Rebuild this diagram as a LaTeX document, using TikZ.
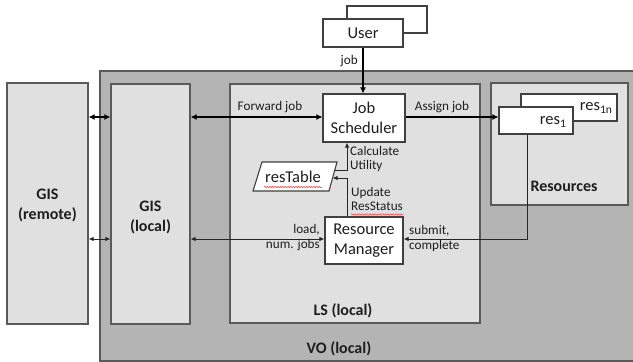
\documentclass[tikz,border=0pt]{standalone}
\usepackage{fontspec}
\setmainfont{Carlito}
\usetikzlibrary{arrows.meta,decorations.pathmorphing}
\definecolor{voGray}{HTML}{B4B4B4}
\definecolor{paneGray}{HTML}{E0E0E0}
\definecolor{edgeGray}{HTML}{5A5A5A}
\definecolor{inkGray}{HTML}{1E1E1E}
\tikzset{
  pane/.style={draw=edgeGray, fill=paneGray, line width=1.2pt, rectangle, inner sep=0pt},
  wbox/.style={draw=inkGray!85, fill=white, line width=1.1pt, rectangle, inner sep=0pt, align=center,
    font=\fontsize{16.5}{19.5}\selectfont, text=inkGray},
  biglabel/.style={font=\bfseries\fontsize{16}{20}\selectfont, align=center, inner sep=0pt, text=inkGray},
  smalllabel/.style={font=\fontsize{13.2}{14.5}\selectfont, inner sep=0pt, text=inkGray},
  heavy/.style={draw=black, line width=1.8pt, -{Latex[length=6pt,width=6pt]}},
  heavyboth/.style={draw=black, line width=1.8pt, {Latex[length=6pt,width=6pt]}-{Latex[length=6pt,width=6pt]}},
  light/.style={draw=black!85, line width=0.9pt, -{Latex[length=5pt,width=4.5pt]}},
  lightboth/.style={draw=black!85, line width=0.9pt, {Latex[length=5pt,width=4.5pt]}-{Latex[length=5pt,width=4.5pt]}},
  spellmark/.style={draw=red!75, line width=0.5pt, decorate, decoration={snake, amplitude=0.7pt, segment length=2.6pt}}
}
\begin{document}
\begin{tikzpicture}[x=1pt,y=-1pt]
\useasboundingbox[fill=white] (0,0) rectangle (633,362);

% virtual organisation container (open to the right)
\fill[voGray] (100,71) rectangle (633,361);
\draw[edgeGray, line width=1.2pt] (633,71) -- (100,71) -- (100,361) -- (633,361);
\node[biglabel] (volbl) at (339,349) {VO (local)};

% information services
\node[pane, minimum width=81pt, minimum height=241pt] (gisr) at (47.5,203.5) {};
\node[biglabel] (gisrlbl) at (47.5,205) {GIS\\(remote)};
\node[pane, minimum width=79pt, minimum height=240pt] (gisl) at (150.5,204) {};
\node[biglabel] (gisllbl) at (150.5,217) {GIS\\(local)};

% local scheduler
\node[pane, minimum width=250pt, minimum height=239pt] (ls) at (355,203.5) {};
\node[biglabel] (lslbl) at (343,311) {LS (local)};

% resources
\node[pane, minimum width=137pt, minimum height=122pt] (res) at (559.5,144) {};
\node[biglabel] (reslbl) at (564,186) {Resources};
\node[wbox, minimum width=96pt, minimum height=27pt] (resn) at (569,107.5) {};
\node[wbox, anchor=east, draw=none, fill=none] (resnlbl) at (613,108) {res\textsubscript{1n}};
\node[wbox, minimum width=74pt, minimum height=27pt] (resa) at (536,120.5) {};
\node[wbox, anchor=east, draw=none, fill=none] (resalbl) at (567,122) {res\textsubscript{1}};

% user
\node[wbox, minimum width=80pt, minimum height=27pt] (userb) at (387,19.5) {};
\node[wbox, minimum width=80pt, minimum height=28pt] (user) at (363,33) {User};

% scheduler components
\node[wbox, minimum width=82pt, minimum height=48pt] (js) at (364,118) {Job\\Scheduler};
\node[wbox, minimum width=78pt, minimum height=47pt] (rm) at (364,240.5) {Resource\\Manager};

% resource table (parallelogram)
\coordinate (tA) at (262,162);
\coordinate (tB) at (337,162);
\coordinate (tC) at (329,191);
\coordinate (tD) at (253,191);
\draw[draw=inkGray!85, fill=white, line width=1.1pt] (tA) -- (tB) -- (tC) -- (tD) -- cycle;
\node[font=\fontsize{16.5}{19.5}\selectfont, text=inkGray, inner sep=0pt] (rt) at (293,177) {resTable};
\draw[spellmark] (264,187) -- (322,187);

% connectors
\draw[heavy] (user.south) -- (user.south |- js.north);
\node[smalllabel, anchor=east] (joblbl) at (358,61) {job};

\draw[heavyboth] (gisl.east |- 0,117) -- (js.west |- 0,117);
\node[smalllabel] (fwdlbl) at (270,107) {Forward job};
\draw[heavyboth] (gisr.east |- 0,117) -- (gisl.west |- 0,117);

\draw[heavy] (js.east |- 0,117) -- (resa.west |- 0,117);
\node[smalllabel] (asglbl) at (442,107) {Assign job};

\coordinate (cuFrom) at (334.8,170);
\coordinate (cuBend) at (347,170);
\draw[light] (cuFrom) -- (cuBend) -- (cuBend |- js.south);
\node[smalllabel, anchor=north west, align=left] (culbl) at (350,146) {Calculate\\Utility};

\coordinate (usTo) at (332.6,178);
\coordinate (usBend) at (347,178);
\draw[light] (usBend |- rm.north) -- (usBend) -- (usTo);
\node[smalllabel, anchor=north west, align=left] (uslbl) at (351,187) {Update\\ResStatus};
\draw[spellmark] (351,214.5) -- (403,214.5);

\draw[lightboth] (gisl.east |- 0,239) -- (rm.west |- 0,239);
\node[smalllabel, anchor=north east, align=right] (loadlbl) at (320,224.5) {load,\\num. jobs};
\draw[lightboth] (gisr.east |- 0,239) -- (gisl.west |- 0,239);

\draw[light] ([xshift=-9pt]resa.south) |- (rm.east |- 0,239);
\node[smalllabel, anchor=north west, align=left] (sublbl) at (409,225.5) {submit,\\complete};
\end{tikzpicture}
\end{document}
